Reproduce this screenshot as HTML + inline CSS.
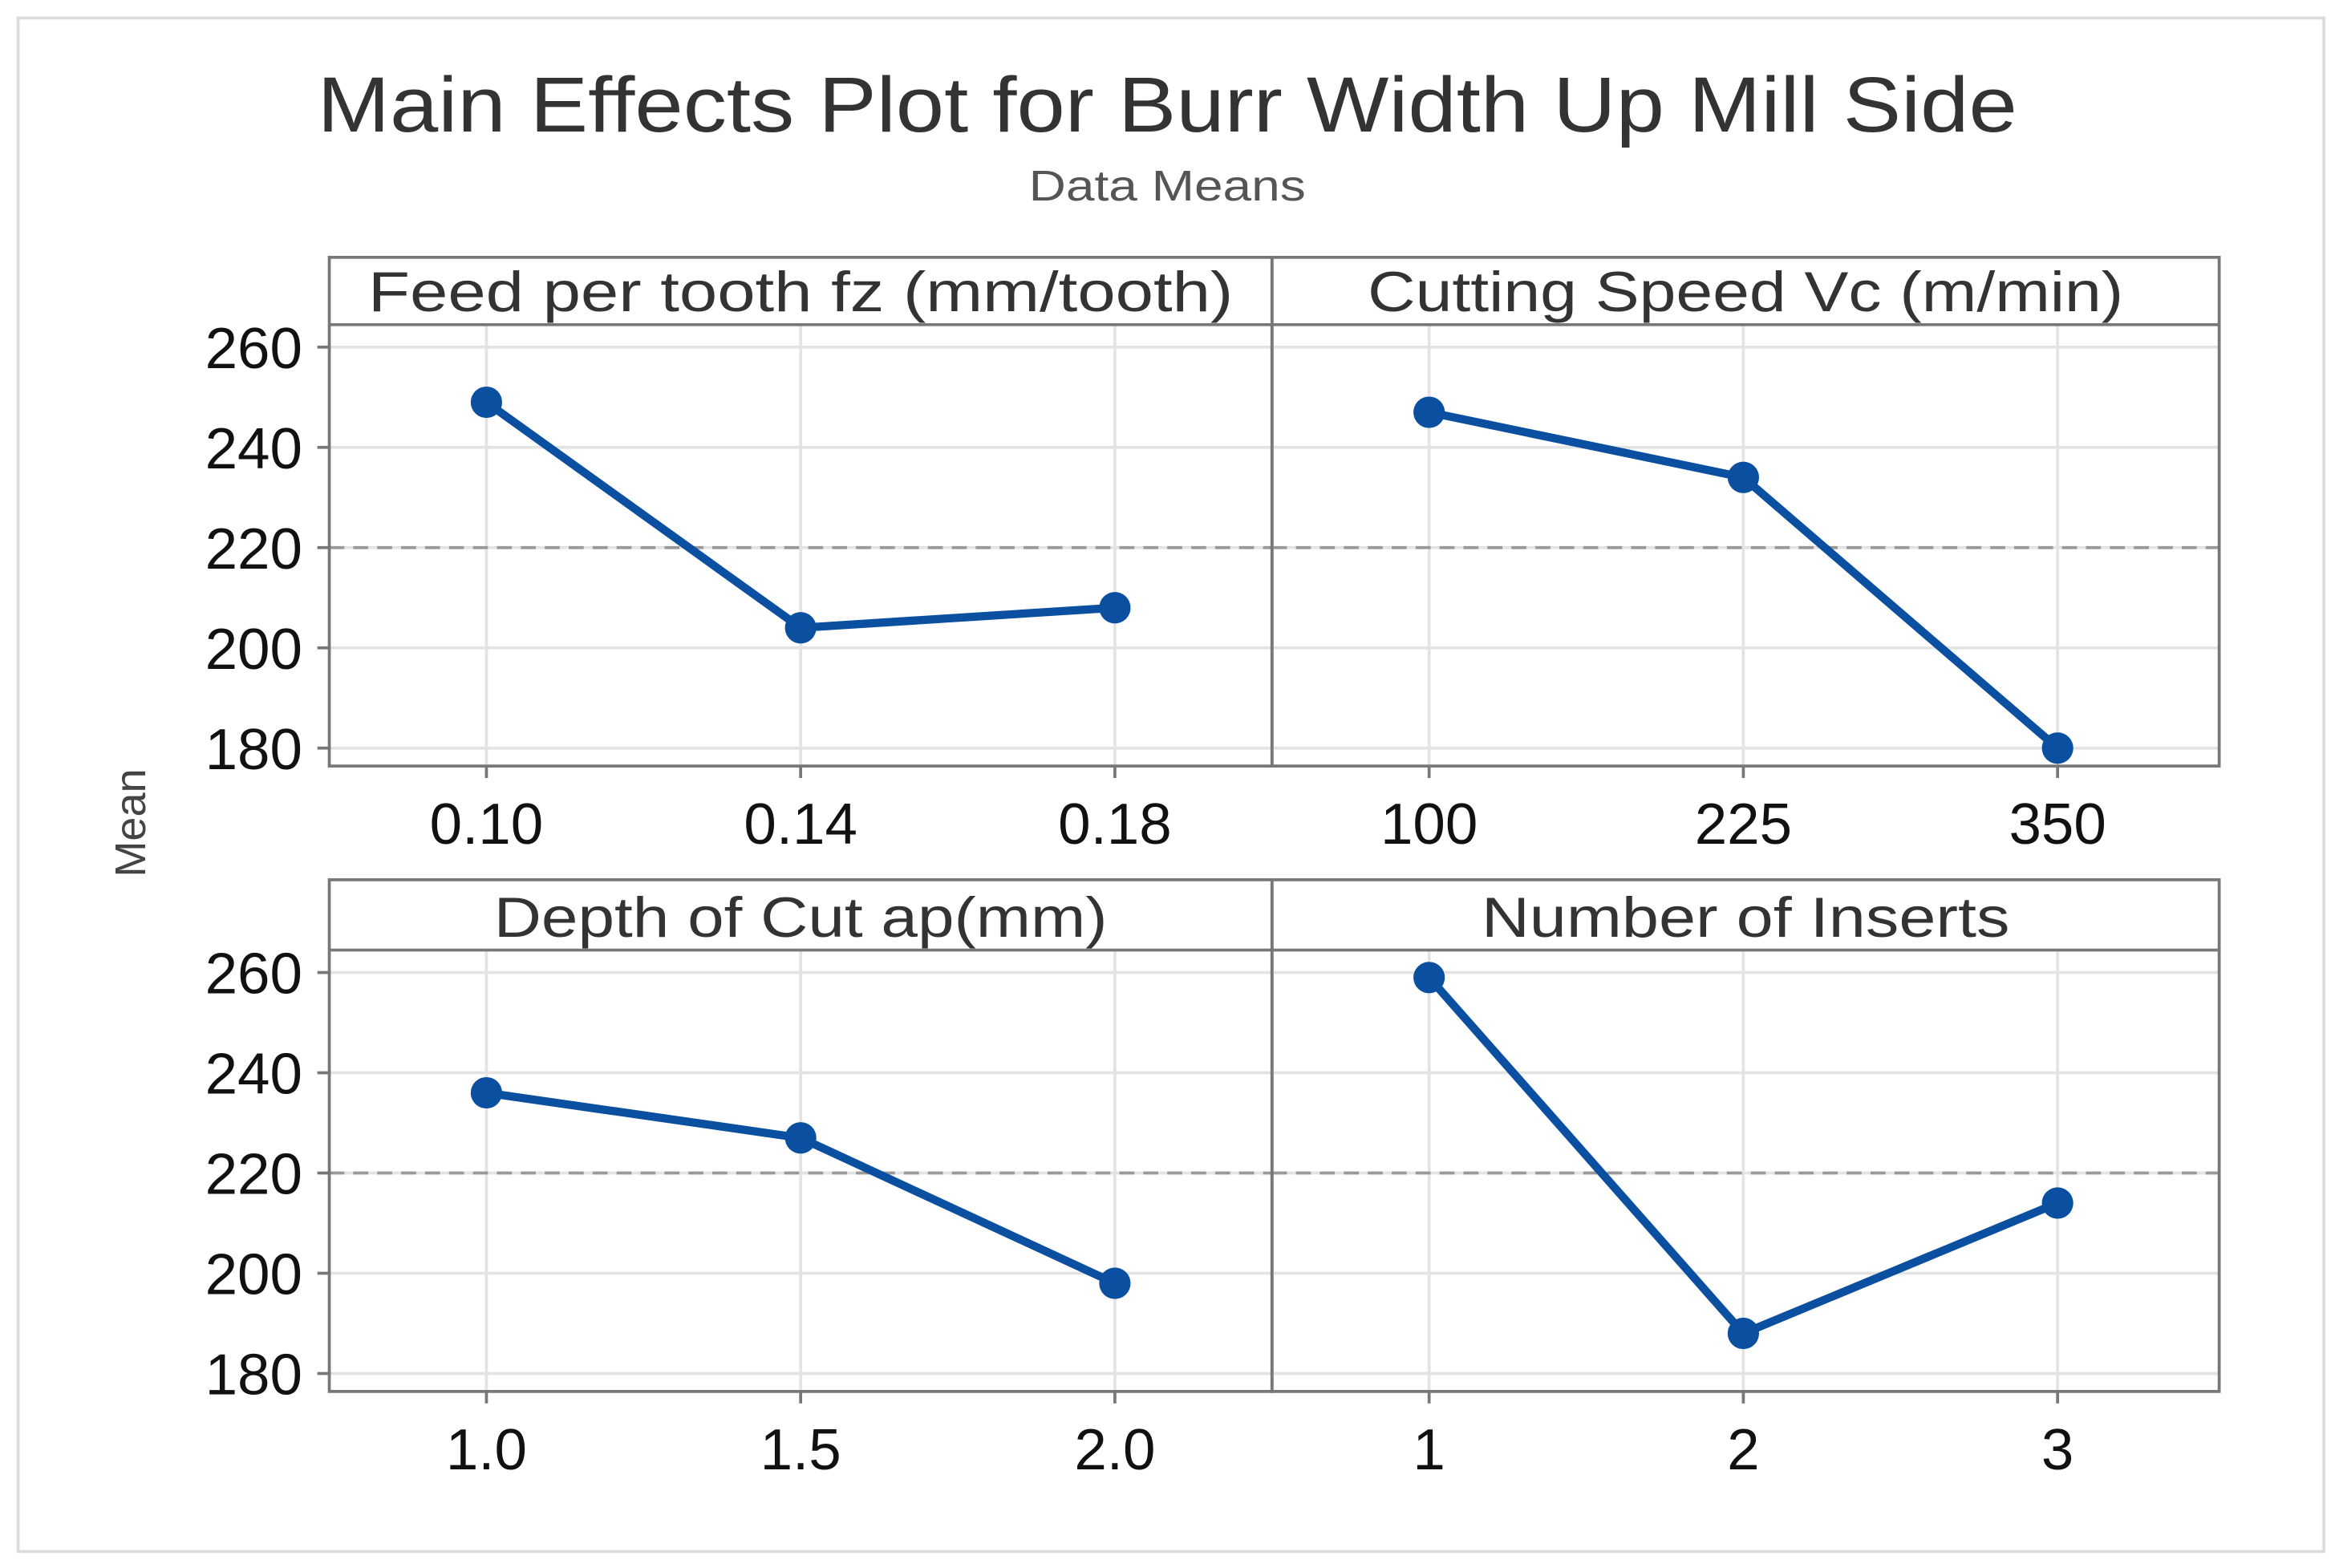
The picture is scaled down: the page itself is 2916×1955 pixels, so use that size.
<!DOCTYPE html>
<html><head><meta charset="utf-8"><style>
html,body{margin:0;padding:0;background:#fff;}
svg{display:block;}
text{font-family:"Liberation Sans",sans-serif;}
</style></head><body>
<svg id="chart" width="2916" height="1955" viewBox="0 0 1563 1048" xmlns="http://www.w3.org/2000/svg">
<rect x="12" y="12" width="1541" height="1025" fill="#fff" stroke="#dcdcdc" stroke-width="2"/>
<text x="780" y="88" text-anchor="middle" font-size="52" fill="#333" textLength="1136" lengthAdjust="spacingAndGlyphs">Main Effects Plot for Burr Width Up Mill Side</text>
<text x="780" y="134" text-anchor="middle" font-size="29" fill="#555" textLength="185" lengthAdjust="spacingAndGlyphs">Data Means</text>
<text transform="translate(97,550) rotate(-90)" text-anchor="middle" font-size="29" fill="#444">Mean</text>
<g id="plots"></g>
</svg>
<script>
const panelTitles = ["Feed per tooth fz (mm/tooth)", "Cutting Speed Vc (m/min)", "Depth of Cut ap(mm)", "Number of Inserts"];
const xLabels = [["0.10","0.14","0.18"],["100","225","350"],["1.0","1.5","2.0"],["1","2","3"]];
const feedMeans = [249, 204, 208];
const speedMeans = [247, 234, 180];
const depthMeans = [236, 227, 198];
const insertMeans = [259, 188, 214];
const yTicks = [180, 200, 220, 240, 260];
const grandMean = 220;

const titleWidths = [578, 505, 410, 353];
const series = [feedMeans, speedMeans, depthMeans, insertMeans];
const NS = "http://www.w3.org/2000/svg";
const g = document.getElementById("plots");
function mk(tag, attrs, parent){
  const e = document.createElementNS(NS, tag);
  for (const k in attrs) e.setAttribute(k, attrs[k]);
  (parent||g).appendChild(e);
  return e;
}
const rows = [{top:172, hdr:217, bottom:512}, {top:588, hdr:635, bottom:930}];
const cols = [{left:220, right:850}, {left:850, right:1483}];
function yScale(row, v){ const y260 = rows[row].hdr + 15, y180 = y260 + 268; return y180 - (v - 180) * (y180 - y260) / 80; }
function xScale(col, i){ const c = cols[col]; return c.left + 105 + i * 210; }

for (let p = 0; p < 4; p++) {
  const row = Math.floor(p / 2), col = p % 2, r = rows[row], c = cols[col];
  const grp = mk("g", {});
  
  
  yTicks.forEach(t => {
    const y = yScale(row, t);
    const gl = mk("line", {x1:c.left, x2:c.right, y1:y, y2:y, stroke:"#e3e3e3", "stroke-width":2}, grp);
    
    
  });
  xLabels[p].forEach((lab, i) => {
    const x = xScale(col, i);
    const gl = mk("line", {x1:x, x2:x, y1:r.hdr, y2:r.bottom, stroke:"#e3e3e3", "stroke-width":2}, grp);
    
    
    const tk = mk("line", {x1:x, x2:x, y1:r.bottom, y2:r.bottom + 8, stroke:"#777", "stroke-width":2}, grp);
    
    
    const tl = mk("text", {x:x, y:r.bottom + 52, "text-anchor":"middle", "font-size":39, fill:"#111"}, grp);
    tl.textContent = lab;
    
    
  });
  const ym = yScale(row, grandMean);
  const ml = mk("line", {x1:c.left, x2:c.right, y1:ym, y2:ym, stroke:"#999", "stroke-width":2, "stroke-dasharray":"10,6"}, grp);
  
  
  if (col === 0) {
    yTicks.forEach(t => {
      const y = yScale(row, t);
      const tk = mk("line", {x1:c.left - 8, x2:c.left, y1:y, y2:y, stroke:"#777", "stroke-width":2}, grp);
      
      
      const tl = mk("text", {x:c.left - 18, y:y + 14, "text-anchor":"end", "font-size":39, fill:"#111"}, grp);
      tl.textContent = t;
      
      
    });
  }
  const fr = mk("rect", {x:c.left, y:r.top, width:c.right - c.left, height:r.bottom - r.top, fill:"none", stroke:"#777", "stroke-width":2}, grp);
  
  
  const hl = mk("line", {x1:c.left, x2:c.right, y1:r.hdr, y2:r.hdr, stroke:"#777", "stroke-width":2}, grp);
  
  
  const ht = mk("text", {x:(c.left + c.right) / 2, y:r.hdr - 9, "text-anchor":"middle", "font-size":38, fill:"#333", textLength:titleWidths[p], lengthAdjust:"spacingAndGlyphs"}, grp);
  ht.textContent = panelTitles[p];
  
  
  const pts = series[p].map((v, i) => xScale(col, i) + "," + yScale(row, v)).join(" ");
  const pl = mk("polyline", {points:pts, fill:"none", stroke:"#0a4fa0", "stroke-width":5.5, "stroke-linejoin":"round"}, grp);
  
  
  series[p].forEach((v, i) => {
    const pt = mk("circle", {cx:xScale(col, i), cy:yScale(row, v), r:10.5, fill:"#0a4fa0"}, grp);
    
    
  });
}
</script>
</body></html>
